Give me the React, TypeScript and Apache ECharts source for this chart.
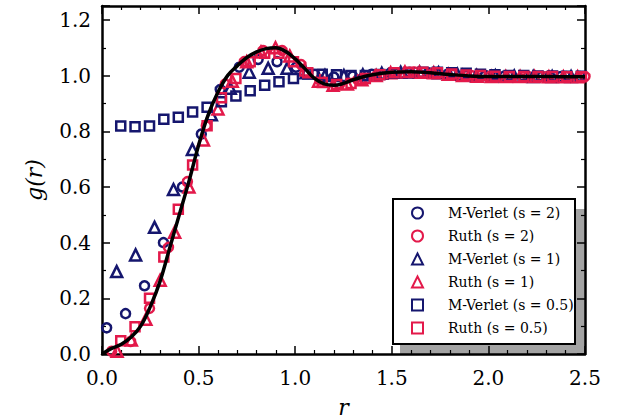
import React, { useEffect, useRef } from "react";
import * as echarts from "echarts";

// Reference curve g(r)
const curveR = [0, 0.05, 0.1, 0.15, 0.2, 0.25, 0.3, 0.35, 0.4, 0.45, 0.5, 0.55, 0.6, 0.65, 0.7, 0.75, 0.8, 0.85, 0.9, 0.95, 1.0, 1.05, 1.1, 1.15, 1.2, 1.25, 1.3, 1.4, 1.5, 1.6, 1.7, 1.8, 1.9, 2.0, 2.2, 2.4, 2.5];
const curveG = [0, 0.02, 0.035, 0.06, 0.1, 0.17, 0.26, 0.38, 0.5, 0.62, 0.75, 0.86, 0.94, 1.0, 1.035, 1.065, 1.085, 1.097, 1.1, 1.087, 1.06, 1.025, 0.99, 0.97, 0.965, 0.972, 0.985, 1.003, 1.012, 1.014, 1.01, 1.004, 0.999, 0.997, 0.997, 0.996, 0.996];

// M-Verlet (s = 2)
const mvS2R = [0.024, 0.122, 0.22, 0.318, 0.416, 0.514, 0.612, 0.71, 0.808, 0.906, 1.004, 1.102, 1.2, 1.298, 1.396, 1.494, 1.592, 1.69, 1.788, 1.886, 1.984, 2.082, 2.18, 2.278, 2.376, 2.474];
const mvS2G = [0.094, 0.145, 0.245, 0.40, 0.60, 0.79, 0.95, 1.03, 1.058, 1.05, 1.03, 1.005, 0.995, 0.998, 1.005, 1.01, 1.012, 1.01, 1.005, 1.0, 1.0, 0.998, 0.998, 0.997, 0.997, 0.997];

// Ruth (s = 2)
const ruthS2R = [0.05, 0.148, 0.246, 0.344, 0.442, 0.54, 0.638, 0.736, 0.834, 0.932, 1.03, 1.128, 1.226, 1.324, 1.422, 1.52, 1.618, 1.716, 1.814, 1.912, 2.01, 2.108, 2.206, 2.304, 2.402, 2.5];
const ruthS2G = [0.01, 0.045, 0.164, 0.383, 0.619, 0.82, 0.97, 1.05, 1.09, 1.09, 1.04, 0.985, 0.97, 0.985, 1.0, 1.01, 1.013, 1.01, 1.005, 1.0, 0.998, 0.997, 0.997, 0.997, 0.997, 0.997];

// M-Verlet (s = 1)
const mvS1R = [0.076, 0.174, 0.272, 0.37, 0.468, 0.566, 0.664, 0.762, 0.86, 0.958, 1.056, 1.154, 1.252, 1.35, 1.448, 1.546, 1.644, 1.742, 1.84, 1.938, 2.036, 2.134, 2.232, 2.33, 2.428];
const mvS1G = [0.296, 0.356, 0.455, 0.591, 0.735, 0.859, 0.955, 1.012, 1.026, 1.026, 1.01, 1.0, 1.0, 1.003, 1.008, 1.012, 1.012, 1.01, 1.005, 1.0, 0.999, 0.998, 0.997, 0.997, 0.997];

// Ruth (s = 1)
const ruthS1R = [0.078, 0.152, 0.227, 0.301, 0.376, 0.45, 0.525, 0.6, 0.674, 0.749, 0.823, 0.898, 0.972, 1.047, 1.121, 1.196, 1.27, 1.345, 1.419, 1.494, 1.568, 1.643, 1.717, 1.792, 1.866, 1.941, 2.015, 2.09, 2.164, 2.239, 2.313, 2.388, 2.462];
const ruthS1G = [0.01, 0.05, 0.125, 0.265, 0.437, 0.6, 0.769, 0.88, 0.98, 1.05, 1.085, 1.1, 1.07, 1.02, 0.98, 0.965, 0.97, 0.985, 1.0, 1.01, 1.013, 1.012, 1.01, 1.005, 1.0, 0.998, 0.997, 0.997, 0.997, 0.997, 0.996, 0.996, 0.996];

// s = 0.5 (both integrators share the r grid)
const sqR = [0.097, 0.171, 0.246, 0.32, 0.395, 0.469, 0.544, 0.618, 0.693, 0.767, 0.842, 0.916, 0.991, 1.065, 1.14, 1.214, 1.289, 1.363, 1.438, 1.512, 1.587, 1.661, 1.736, 1.81, 1.885, 1.959, 2.034, 2.108, 2.183, 2.257, 2.332, 2.406, 2.481];
const mvS05G = [0.819, 0.816, 0.819, 0.843, 0.85, 0.869, 0.886, 0.906, 0.927, 0.946, 0.965, 0.978, 0.99, 1.006, 1.005, 1.003, 1.0, 1.0, 1.004, 1.008, 1.01, 1.012, 1.012, 1.01, 1.008, 1.005, 1.003, 1.0, 1.0, 0.999, 0.999, 0.998, 0.998];
const ruthS05G = [0.048, 0.098, 0.2, 0.348, 0.52, 0.679, 0.82, 0.92, 0.99, 1.05, 1.08, 1.08, 1.05, 1.01, 0.975, 0.968, 0.972, 0.99, 1.003, 1.01, 1.012, 1.012, 1.01, 1.006, 1.002, 1.0, 0.998, 0.997, 0.997, 0.997, 0.997, 0.996, 0.996];

const xTicks = ["0.0", "0.5", "1.0", "1.5", "2.0", "2.5"];
const yTicks = ["0.0", "0.2", "0.4", "0.6", "0.8", "1.0", "1.2"];

const BLUE = "#15166e";
const RED = "#e3194a";
const FONT = "DejaVu Serif";

const zip = (xs: number[], ys: number[]) => xs.map((x, i) => [x, ys[i]]);

export default function App() {
  const ref = useRef<HTMLDivElement>(null);
  useEffect(() => {
    document.body.style.margin = "0";
    if (!ref.current) return;
    const chart = echarts.init(ref.current, undefined, { renderer: "svg" });
    const scatter = (name: string, r: number[], g: number[], symbol: string, color: string, size: number) => ({
      name,
      type: "scatter",
      data: zip(r, g),
      symbol,
      symbolSize: size,
      symbolKeepAspect: true,
      z: 3,
      itemStyle: { color: "rgba(255,255,255,0)", borderColor: color, borderWidth: 2.5, opacity: 1 },
    });
    const axisCommon = {
      axisLine: { show: true, onZero: false, lineStyle: { color: "#000", width: 2.5 } },
      axisTick: { show: true, inside: true, length: 8, lineStyle: { color: "#000", width: 1.5 } },
      minorTick: { show: true, length: 4, lineStyle: { color: "#000", width: 1.2 } },
      splitLine: { show: false },
    };
    chart.setOption({
      animation: false,
      textStyle: { fontFamily: FONT },
      grid: { left: 102, right: 42, top: 6, bottom: 65, containLabel: false, outerBoundsMode: "none" },
      xAxis: [
        {
          type: "value", min: 0, max: 2.5, interval: 0.5, position: "bottom",
          ...axisCommon,
          minorTick: { ...axisCommon.minorTick, splitNumber: 5 },
          axisLabel: {
            color: "#000", fontFamily: FONT, fontSize: 20, margin: 14,
            formatter: (v: number) => xTicks[Math.round(v / 0.5)] ?? "",
          },
          name: "r", nameLocation: "middle", nameGap: 42,
          nameTextStyle: { color: "#000", fontFamily: FONT, fontSize: 22, fontStyle: "italic" },
        },
        {
          type: "value", min: 0, max: 2.5, interval: 0.5, position: "top",
          ...axisCommon,
          minorTick: { ...axisCommon.minorTick, splitNumber: 5 },
          axisLabel: { show: false },
        },
      ],
      yAxis: [
        {
          type: "value", min: 0, max: 1.25, interval: 0.2, position: "left",
          ...axisCommon,
          minorTick: { ...axisCommon.minorTick, splitNumber: 2 },
          axisLabel: {
            color: "#000", fontFamily: FONT, fontSize: 20, margin: 11,
            formatter: (v: number) => {
              const i = Math.round(v / 0.2);
              return Math.abs(i * 0.2 - v) < 1e-6 ? yTicks[i] ?? "" : "";
            },
          },
          name: "g(r)", nameLocation: "middle", nameGap: 57, nameRotate: 90,
          nameTextStyle: { color: "#000", fontFamily: FONT, fontSize: 22, fontStyle: "italic" },
        },
        {
          type: "value", min: 0, max: 1.25, interval: 0.2, position: "right",
          ...axisCommon,
          minorTick: { ...axisCommon.minorTick, splitNumber: 2 },
          axisLabel: { show: false },
        },
      ],
      legend: {
        orient: "vertical",
        left: 411,
        top: 205,
        padding: 0,
        itemWidth: 11,
        itemHeight: 11,
        itemGap: 7,
        textStyle: { color: "#000", fontFamily: FONT, fontSize: 14, lineHeight: 16, padding: [0, 0, 0, 20] },
        data: [
          "M-Verlet (s = 2)", "Ruth (s = 2)", "M-Verlet (s = 1)",
          "Ruth (s = 1)", "M-Verlet (s = 0.5)", "Ruth (s = 0.5)",
        ],
      },
      graphic: [
        { type: "rect", z: -1, shape: { x: 400, y: 209, width: 185, height: 145 }, style: { fill: "#a3a3a3" } },
        { type: "rect", z: -1, shape: { x: 393, y: 199, width: 182, height: 145 }, style: { fill: "#fff", stroke: "#000", lineWidth: 2 } },
      ],
      series: [
        scatter("M-Verlet (s = 2)", mvS2R, mvS2G, "circle", BLUE, 9),
        scatter("Ruth (s = 2)", ruthS2R, ruthS2G, "circle", RED, 9),
        scatter("M-Verlet (s = 1)", mvS1R, mvS1G, "triangle", BLUE, 11),
        scatter("Ruth (s = 1)", ruthS1R, ruthS1G, "triangle", RED, 11),
        scatter("M-Verlet (s = 0.5)", sqR, mvS05G, "rect", BLUE, 9),
        scatter("Ruth (s = 0.5)", sqR, ruthS05G, "rect", RED, 9),
        {
          name: "curve",
          type: "line",
          data: zip(curveR, curveG),
          smooth: 0.4,
          showSymbol: false,
          symbol: "none",
          z: 5,
          lineStyle: { color: "#000", width: 3.5 },
        },
      ],
    });
    return () => chart.dispose();
  }, []);
  return <div ref={ref} style={{ width: 627, height: 419 }} />;
}
